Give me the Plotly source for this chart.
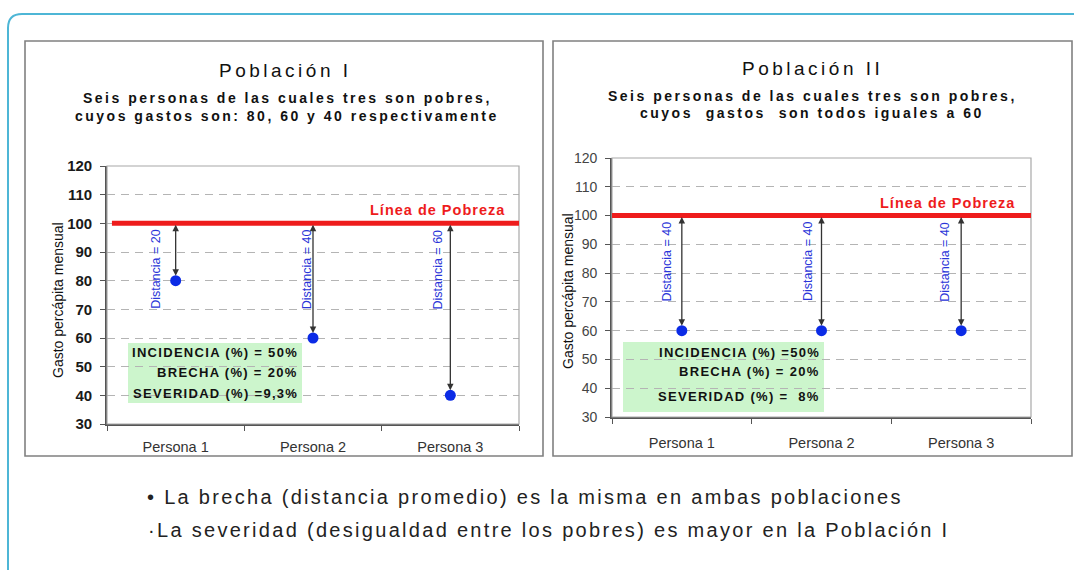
import plotly.graph_objects as go

W, H = 1074, 570

# ---------------- data ----------------
categorias = ["Persona 1", "Persona 2", "Persona 3"]
gasto_pob1 = [80, 60, 40]
gasto_pob2 = [60, 60, 60]
linea_pobreza = 100
y_ticks = [30, 40, 50, 60, 70, 80, 90, 100, 110, 120]
indicadores_pob1 = ["INCIDENCIA (%) = 50%", "BRECHA (%) = 20%", "SEVERIDAD (%) =9,3%"]
indicadores_pob2 = ["INCIDENCIA (%) =50%", "BRECHA (%) = 20%", "SEVERIDAD (%) =  8%"]
titulos = ["Población I", "Población II"]
subtitulos = [
    ["Seis personas de las cuales tres son pobres,",
     "cuyos gastos son: 80, 60 y 40 respectivamente"],
    ["Seis personas de las cuales tres son pobres,",
     "cuyos  gastos  son todos iguales a 60"],
]
etiqueta_linea = "Línea de Pobreza"
titulo_eje_y = "Gasto percápita mensual"
notas = [
    "• La brecha (distancia promedio) es la misma en ambas poblaciones",
    "·La severidad (desigualdad entre los pobres) es mayor en la Población I",
]

# ---------------- helpers ----------------
def px(x):
    return x / W


def py(y):
    return 1 - y / H


def spaced(txt, sp):
    return f'<span style="letter-spacing:{sp}px">{txt}</span>'


FONT = "Liberation Sans, Arial, sans-serif"
NARROW = "Liberation Sans Narrow, Arial Narrow, Liberation Sans, Arial, sans-serif"
RED = "#ee1c1c"
BLUE = "#0b2be6"
TXTBLUE = "#2a35d8"
GREEN = "#ccf5cc"

panels = [
    dict(xa="x", ya="y", gasto=gasto_pob1, ind=indicadores_pob1,
         plot=(107, 519, 166, 424), box=(25, 543, 41, 456),
         title=(285, 71), sub=(287, [98, 116]), linea_lbl=(507, 210), red_x0=0.012,
         green=(128, 302, 343, 403), ind_x=300, ind_y=[352, 372, 393],
         dist_shift=[-19, -6, -12], ylab=(58, 300),
         tickfont=dict(size=15, color="#1a1a1a", family=FONT, weight="bold"),
         xstand=9),
    dict(xa="x2", ya="y2", gasto=gasto_pob2, ind=indicadores_pob2,
         plot=(612, 1031, 158, 417), box=(553, 1072, 41, 456),
         title=(812, 68), sub=(812, [96, 113]), linea_lbl=(1017, 203), red_x0=0.0,
         green=(623, 824, 342, 412), ind_x=822, ind_y=[352, 371, 397],
         dist_shift=[-15, -14, -17], ylab=(568, 291),
         tickfont=dict(size=14, color="#444", family=FONT),
         xstand=12),
]

fig = go.Figure()
shapes = []
annotations = []
layout_axes = {}

# outer rounded frame (teal)
r_x, r_y = px(14), 14 / H
shapes.append(dict(
    type="path", xref="paper", yref="paper",
    path=(f"M {px(8)},{py(575)} L {px(8)},{py(14) - r_y} "
          f"Q {px(8)},{py(14)} {px(8) + r_x},{py(14)} L {px(1080)},{py(14)}"),
    line=dict(color="#4db6d6", width=2), layer="below"))

for k, p in enumerate(panels):
    xa, ya = p["xa"], p["ya"]
    xl, xr, yt, yb = p["plot"]
    bx0, bx1, by0, by1 = p["box"]
    suf = "" if k == 0 else "2"

    # panel border
    shapes.append(dict(type="rect", xref="paper", yref="paper",
                       x0=px(bx0), x1=px(bx1), y0=py(by1), y1=py(by0),
                       line=dict(color="#808080", width=1.6), layer="below"))

    # axes
    layout_axes["xaxis" + suf] = dict(
        domain=[px(xl), px(xr)], anchor=ya, type="category",
        categoryorder="array", categoryarray=categorias,
        range=[-0.5, len(categorias) - 0.5], tickson="boundaries",
        ticks="outside", ticklen=5, tickcolor="#555", tickwidth=1.3,
        showline=True, linecolor="#555", linewidth=1.6, showgrid=False,
        zeroline=False, ticklabelstandoff=p["xstand"], automargin=False,
        tickfont=dict(size=14.5, color="#333", family=FONT), fixedrange=True)
    layout_axes["yaxis" + suf] = dict(
        domain=[py(yb), py(yt)], anchor=xa, range=[30, 120],
        tickvals=y_ticks, ticks="outside", ticklen=5, tickcolor="#555",
        tickwidth=1.3, showline=True, linecolor="#555", linewidth=1.6,
        showgrid=True, gridcolor="#b4b4b4", gridwidth=1, griddash="8px,6px",
        zeroline=False, tickfont=p["tickfont"], fixedrange=True,
        ticklabelstandoff=5, automargin=False)

    # plot area border (top/right)
    shapes.append(dict(type="rect", xref=xa + " domain", yref=ya + " domain",
                       x0=0, x1=1, y0=0, y1=1,
                       line=dict(color="#a8a8a8", width=1.2), layer="above"))

    # green indicators box
    gx0, gx1, gy0, gy1 = p["green"]
    shapes.append(dict(type="rect", xref="paper", yref="paper",
                       x0=px(gx0), x1=px(gx1), y0=py(gy1), y1=py(gy0),
                       fillcolor=GREEN, line=dict(width=0), layer="below"))
    for txt, yy in zip(p["ind"], p["ind_y"]):
        annotations.append(dict(text=spaced(txt, 1.3), xref="paper", yref="paper",
                                x=px(p["ind_x"]), y=py(yy), xanchor="right",
                                yanchor="middle", showarrow=False,
                                font=dict(size=13, color="#111", family=FONT,
                                          weight="bold")))

    # poverty line
    shapes.append(dict(type="line", xref=xa + " domain", yref=ya,
                       x0=p["red_x0"], x1=1, y0=linea_pobreza, y1=linea_pobreza,
                       line=dict(color=RED, width=5), layer="above"))
    annotations.append(dict(text=spaced(etiqueta_linea, 1), xref="paper", yref="paper",
                            x=px(p["linea_lbl"][0]), y=py(p["linea_lbl"][1]),
                            xanchor="right", yanchor="middle", showarrow=False,
                            font=dict(size=14.5, color=RED, family=FONT,
                                      weight="bold")))

    # distance arrows + labels
    for i, v in enumerate(p["gasto"]):
        annotations.append(dict(
            x=i, y=v, ax=i, ay=linea_pobreza, xref=xa, yref=ya,
            axref=xa, ayref=ya, text="", showarrow=True, arrowhead=2,
            arrowside="end+start", arrowsize=1, arrowwidth=1.3,
            arrowcolor="#333", standoff=5, startstandoff=0))
        annotations.append(dict(
            x=i, y=84, xref=xa, yref=ya, xshift=p["dist_shift"][i],
            text=f"Distancia = {linea_pobreza - v}", textangle=-90,
            showarrow=False, font=dict(size=12.5, color=TXTBLUE, family=NARROW)))

    # points
    fig.add_trace(go.Scatter(
        x=categorias, y=p["gasto"], xaxis=xa, yaxis=ya, mode="markers",
        marker=dict(color=BLUE, size=11), showlegend=False,
        hovertemplate="%{x}: %{y}<extra></extra>"))

    # titles
    annotations.append(dict(text=spaced(titulos[k], 3.5), xref="paper", yref="paper",
                            x=px(p["title"][0]), y=py(p["title"][1]),
                            xanchor="center", yanchor="middle", showarrow=False,
                            font=dict(size=19, color="#111", family=FONT)))
    for line, yy in zip(subtitulos[k], p["sub"][1]):
        annotations.append(dict(text=spaced(line, 2.5), xref="paper", yref="paper",
                                x=px(p["sub"][0]), y=py(yy),
                                xanchor="center", yanchor="middle", showarrow=False,
                                font=dict(size=14, color="#111", family=FONT,
                                          weight="bold")))
    # y-axis title
    annotations.append(dict(text=titulo_eje_y, xref="paper", yref="paper",
                            x=px(p["ylab"][0]), y=py(p["ylab"][1]),
                            xanchor="center", yanchor="middle", showarrow=False,
                            textangle=-90,
                            font=dict(size=14, color="#111", family=FONT)))

# bottom notes
for txt, (xx, yy) in zip(notas, [(145, 497), (146, 530)]):
    annotations.append(dict(text=spaced(txt, 2.3), xref="paper", yref="paper",
                            x=px(xx), y=py(yy), xanchor="left",
                            yanchor="middle", showarrow=False,
                            font=dict(size=20, color="#222", family=FONT)))

fig.update_layout(
    width=W, height=H, margin=dict(l=0, r=0, t=0, b=0, autoexpand=False),
    paper_bgcolor="white", plot_bgcolor="white",
    shapes=shapes, annotations=annotations, showlegend=False,
    **layout_axes)

fig.write_html(
    "out.html",
    config={"displayModeBar": False},
    post_script=("document.documentElement.style.margin='0';"
                 "document.body.style.margin='0';"
                 "document.documentElement.style.overflow='hidden';"
                 "document.body.style.overflow='hidden';"))
